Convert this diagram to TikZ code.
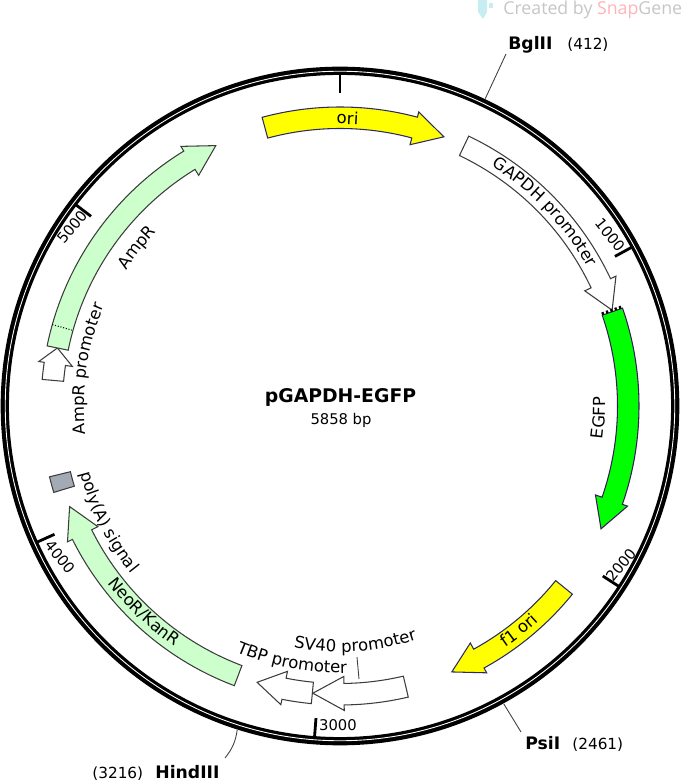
\documentclass[tikz,border=0pt]{standalone}
\usepackage{fontspec}
\setmainfont{DejaVu Sans}
\newfontfamily\markfont{Open Sans}
\usetikzlibrary{decorations.text}
\newcommand\labelfont{\fontsize{8.4pt}{10pt}\selectfont}
\newcommand\widefont{\fontsize{9.4pt}{11pt}\selectfont}
\definecolor{paleline}{HTML}{3C3C3C}
\definecolor{yellowline}{HTML}{2A2A66}
\definecolor{greenline}{HTML}{3A1A5A}
\definecolor{palegreen}{HTML}{CCFFCC}
\definecolor{orifill}{HTML}{FFFF00}
\definecolor{gfpfill}{HTML}{00FF00}
\definecolor{signalgrey}{HTML}{A3AAB4}
\definecolor{markgrey}{HTML}{C6C6C6}
\definecolor{markpink}{HTML}{FFB4B8}
\definecolor{markcyan}{HTML}{C6EEF2}
\tikzset{
    feature/.style = {draw = paleline, line width = .6, line join = miter},
    ringtick/.style = {line width = 1.6},
    leader/.style = {line width = .5, draw = black!75},
    ticklabel/.style = {font = \labelfont, inner sep = 0},
    sitename/.style = {font = \fontsize{9.8pt}{11pt}\selectfont\bfseries, anchor = base west, inner sep = 0},
    sitepos/.style = {font = \fontsize{8.7pt}{10pt}\selectfont, anchor = base west, inner sep = 0},
    arclabel/.style = {decorate, decoration = {text along path, text align = center, text = {|\widefont|#1}}}
}
\begin{document}
\begin{tikzpicture}
        \useasboundingbox (-6.8, -7.54) rectangle (6.9, 8.12);
        % backbone
        \draw [line width = 4.7] (0, 0) circle (6.704);
        \draw [line width = .5, white] (0, 0) circle (6.695);
        \draw [ringtick] (90:6.26) -- (90:6.64);
        \draw [ringtick] (28.55:6.26) -- (28.55:6.64);
        \draw [ringtick] (-32.9:6.26) -- (-32.9:6.64);
        \draw [ringtick] (-94.4:6.26) -- (-94.4:6.64);
        \draw [ringtick] (-155.8:6.26) -- (-155.8:6.64);
        \draw [ringtick] (-217.3:6.26) -- (-217.3:6.64);
        \node [ticklabel, rotate = -51] (tickthousand) at (5.4, 3.42) {1000};
        \node [ticklabel, rotate = 51] (ticktwothousand) at (5.62, -3.18) {2000};
        \node [ticklabel] (tickthreethousand) at (-.04, -6.38) {3000};
        \node [ticklabel, rotate = -51] (tickfourthousand) at (-5.6, -3.02) {4000};
        \node [ticklabel, rotate = 51] (tickfivethousand) at (-5.36, 3.58) {5000};
        % features
        \draw [feature, draw = yellowline, fill = orifill] (105.1:5.98) arc (105.1:75:5.98) -- (75:6.09) -- (68.9:5.77) -- (75:5.41) -- (75:5.55) arc (75:105.1:5.55) -- cycle;
        \draw [feature, fill = white] (64.5:5.98) arc (64.5:25.2:5.98) -- (25.2:6.1) -- (19.4:5.77) -- (25.2:5.41) -- (25.2:5.55) arc (25.2:64.5:5.55) -- cycle;
        \draw [feature, draw = greenline, fill = gfpfill] (19.1:5.98) arc (19.1:-19.2:5.98) -- (-19.2:6.09) -- (-25.2:5.77) -- (-19.2:5.41) -- (-19.2:5.55) arc (-19.2:19.1:5.55) -- cycle;
        \draw [line width = 1.6, dash pattern = on 1.3pt off 1.3pt] (19.4:5.55) -- (19.4:5.98);
        \draw [feature, draw = yellowline, fill = orifill] (-39:5.98) arc (-39:-61.2:5.98) -- (-61.2:6.09) -- (-67.2:5.77) -- (-61.2:5.41) -- (-61.2:5.55) arc (-61.2:-39:5.55) -- cycle;
        \draw [feature, fill = white] (-76.8:5.98) arc (-76.8:-89.2:5.98) -- (-89.2:6.09) -- (-95.4:5.77) -- (-89.2:5.41) -- (-89.2:5.55) arc (-89.2:-76.8:5.55) -- cycle;
        \draw [feature, fill = white] (-95.5:5.98) arc (-95.5:-101.2:5.98) -- (-101.2:6.09) -- (-106.7:5.77) -- (-101.2:5.41) -- (-101.2:5.55) arc (-101.2:-95.5:5.55) -- cycle;
        \draw [feature, fill = palegreen] (-110.7:5.98) arc (-110.7:-153.5:5.98) -- (-153.5:6.09) -- (-159.6:5.77) -- (-153.5:5.41) -- (-153.5:5.55) arc (-153.5:-110.7:5.55) -- cycle;
        \draw [feature, fill = signalgrey] (-163.2:5.98) arc (-163.2:-166.3:5.98) -- (-166.3:5.55) arc (-166.3:-163.2:5.55) -- cycle;
        \draw [feature, fill = white] (174.9:5.98) arc (174.9:171.6:5.98) -- (171.6:6.09) -- (168.4:5.77) -- (171.6:5.41) -- (171.6:5.55) arc (171.6:174.9:5.55) -- cycle;
        \draw [feature, fill = palegreen] (168.4:5.98) arc (168.4:121.5:5.98) -- (121.5:6.09) -- (115.5:5.77) -- (121.5:5.41) -- (121.5:5.55) arc (121.5:168.4:5.55) -- cycle;
        \draw [line width = .6, densely dotted] (164.2:5.98) -- (164.2:5.57);
        % feature labels
        \path [arclabel = {ori}] (108.5:5.64) arc (108.5:68.5:5.64);
        \path [arclabel = {GAPDH promoter}] (73.4:5.68) arc (73.4:13.4:5.68);
        \path [arclabel = {EGFP}] (-22.6:5.3) arc (-22.6:17.4:5.3);
        \path [arclabel = {f1 ori}] (-71.4:5.86) arc (-71.4:-31.4:5.86);
        \path [arclabel = {SV40 promoter}] (-116.3:4.92) arc (-116.3:-56.3:4.92);
        \path [arclabel = {TBP promoter}] (-130.7:5.34) arc (-130.7:-70.7:5.34);
        \path [arclabel = {NeoR/KanR}] (-163.6:5.84) arc (-163.6:-103.6:5.84);
        \path [arclabel = {poly(A) signal}] (-183.4:5.36) arc (-183.4:-123.4:5.36);
        \path [arclabel = {AmpR promoter}] (201.6:5.12) arc (201.6:141.6:5.12);
        \path [arclabel = {AmpR}] (162:5.06) arc (162:122:5.06);
        % sites
        \node [sitename] (bglname) at (3.36, 7.12) {BglII};
        \node [sitepos] (bglpos) at (4.54, 7.12) {(412)};
        \node [sitename] (psiname) at (3.7, -6.86) {PsiI};
        \node [sitepos] (psipos) at (4.64, -6.86) {(2461)};
        \node [sitepos] (hindpos) at (-4.96, -7.44) {(3216)};
        \node [sitename] (hindname) at (-3.7, -7.44) {HindIII};
        \coordinate (bglsite) at (64.7:6.8);
        \coordinate (bglend) at (3.32, 7.04);
        \coordinate (psisite) at (-61.2:6.8);
        \coordinate (psiend) at (3.62, -6.52);
        \coordinate (hindsite) at (-107.6:6.8);
        \coordinate (hindend) at (-2.3, -7.04);
        \coordinate (svlabel) at (.34, -5.02);
        \coordinate (svarrow) at (.38, -5.46);
        \draw [leader] (bglsite) -- (bglend);
        \draw [leader] (psisite) -- (psiend);
        \draw [leader] (hindsite) to [bend left = 15] (hindend);
        \draw [leader] (svlabel) -- (svarrow);
        % name in the middle
        \node [font = \fontsize{10.7pt}{13pt}\selectfont\bfseries, anchor = base, inner sep = 0] (plasmidname) at (.01, .06) {pGAPDH-EGFP};
        \node [font = \labelfont, anchor = base, inner sep = 0] (plasmidsize) at (.02, -.38) {5858 bp};
        % corner mark
        \fill [markcyan] (2.76, 8.12) -- (2.94, 8.12) -- (2.94, 7.88) -- (2.86, 7.74) -- (2.76, 7.88) -- cycle;
        \fill [markcyan] (2.98, 8.06) rectangle (3.06, 7.96);
        \node [font = \fontsize{10.1pt}{12pt}\markfont, anchor = base west, inner sep = 0, text = markgrey] (markline) at (3.26, 7.82) {Created by \textcolor{markpink}{Snap}Gene};
    \end{tikzpicture}
\end{document}
